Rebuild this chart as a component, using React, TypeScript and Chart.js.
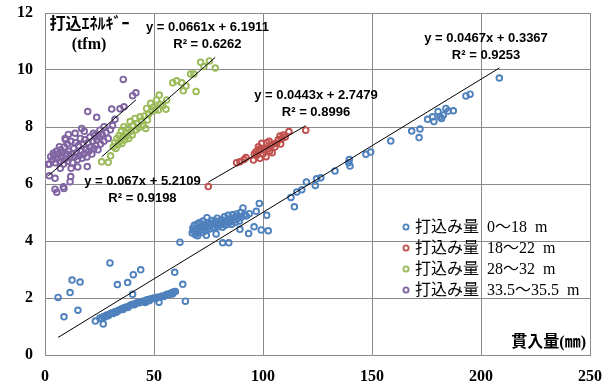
import React, { useEffect, useRef } from "react";
import { Chart, registerables } from "chart.js";

Chart.register(...registerables);

// ---------- data ----------
const seriesLabels = [
  "打込み量 0～18 m",
  "打込み量 18～22 m",
  "打込み量 28～32 m",
  "打込み量 33.5～35.5 m",
];
const seriesColors = ["#4F81BD", "#C0504D", "#9BBB59", "#8064A2"];

const blueData: [number, number][] = [
  [6.0, 2.02], [8.7, 1.34], [11.5, 2.19], [12.4, 2.63], [16.1, 2.56], [15.1, 1.57],
  [29.8, 3.23], [33.2, 2.47], [37.9, 2.54], [40.5, 2.82], [43.9, 2.99], [40.2, 2.13],
  [23.1, 1.19], [26.7, 1.09], [59.5, 2.9], [63.2, 2.48], [64.4, 1.89], [61.9, 3.96],
  [25.2, 1.30], [26.0, 1.27], [26.8, 1.35], [27.5, 1.33], [28.3, 1.40], [29.0, 1.38],
  [29.8, 1.44], [30.5, 1.47], [31.3, 1.46], [32.0, 1.52], [32.8, 1.50], [33.5, 1.56],
  [34.3, 1.58], [35.0, 1.61], [35.8, 1.60], [36.5, 1.66], [37.3, 1.68], [38.0, 1.67],
  [38.8, 1.73], [39.5, 1.76], [40.3, 1.78], [41.0, 1.76], [41.8, 1.82], [42.5, 1.84],
  [43.3, 1.83], [44.0, 1.87], [44.8, 1.89], [45.5, 1.87], [46.3, 1.92], [47.0, 1.94],
  [47.8, 1.90], [48.5, 1.97], [49.3, 1.98], [50.0, 2.00], [50.8, 1.97], [51.5, 2.03],
  [52.3, 1.85], [53.0, 2.04], [53.8, 2.07], [54.5, 2.05], [55.3, 2.10], [56.0, 2.13],
  [56.8, 2.11], [57.5, 2.16], [58.3, 2.19], [59.0, 2.21], [59.8, 2.23], [58.5, 2.14],
  [46.0, 1.84], [36.0, 1.64],
  [67.5, 4.28], [67.8, 4.45], [68.2, 4.35], [68.5, 4.55], [69.0, 4.22], [69.3, 4.40],
  [69.8, 4.60], [70.2, 4.30], [70.5, 4.48], [71.0, 4.65], [71.3, 4.38], [71.8, 4.52],
  [72.2, 4.30], [72.5, 4.70], [73.0, 4.45], [73.4, 4.58], [73.8, 4.36], [74.3, 4.82],
  [74.6, 4.50], [75.0, 4.65], [75.5, 4.42], [76.0, 4.58], [76.4, 4.72], [76.8, 4.48],
  [77.3, 4.62], [77.8, 4.45], [78.2, 4.70], [78.6, 4.55], [79.0, 4.80], [79.5, 4.50],
  [80.0, 4.66], [80.5, 4.58], [81.0, 4.75], [81.4, 4.48], [81.8, 4.62], [82.3, 4.85],
  [82.7, 4.55], [83.2, 4.70], [83.6, 4.60], [84.0, 4.90], [84.5, 4.65], [85.0, 4.78],
  [85.5, 4.58], [86.0, 4.92], [86.4, 4.72], [86.9, 4.82], [87.3, 4.65], [87.8, 4.95],
  [88.3, 4.78], [88.7, 4.88], [89.2, 4.70], [89.7, 5.00], [90.2, 4.85], [90.8, 5.16],
  [91.5, 4.92], [92.3, 4.88], [78.5, 4.25], [70.0, 4.18], [74.0, 4.20],
  [81.5, 3.94], [84.3, 3.94], [89.4, 4.41], [93.4, 4.26], [95.9, 4.50], [99.2, 4.39],
  [102.4, 4.36], [101.7, 4.90], [98.3, 5.32], [96.9, 5.04], [93.7, 4.96],
  [112.8, 5.53], [114.4, 5.2], [115.5, 5.72], [117.8, 5.80], [119.9, 6.07], [124.0, 5.95],
  [124.6, 6.18], [126.5, 6.22], [133.0, 6.46], [139.6, 6.86], [139.9, 6.63], [139.3, 6.75],
  [147.2, 7.04], [149.4, 7.12], [158.6, 7.51], [168.2, 7.86], [172.0, 7.93], [171.6, 7.63],
  [175.5, 8.27], [177.8, 8.36], [178.4, 8.19], [180.3, 8.54], [181.2, 8.36], [182.7, 8.42],
  [183.9, 8.65], [185.0, 8.56], [187.3, 8.57], [181.9, 8.3], [193.1, 9.09], [195.0, 9.15],
  [208.4, 9.72],
];

const redData: [number, number][] = [
  [74.9, 5.91], [87.9, 6.75], [89.4, 6.78], [91.3, 6.86], [92.2, 6.93], [95.6, 6.84],
  [96.8, 7.13], [97.9, 7.31], [98.6, 6.90], [99.4, 7.43], [100.0, 7.05], [100.5, 7.20],
  [101.4, 6.96], [101.7, 7.45], [102.3, 7.25], [103.0, 7.15], [103.5, 7.35], [104.2, 7.10],
  [104.8, 7.40], [105.5, 7.30], [106.3, 7.43], [107.0, 7.55], [107.8, 7.68], [108.1, 7.40],
  [108.7, 7.60], [109.3, 7.72], [110.2, 7.65], [111.9, 7.84], [119.6, 7.89], [97.0, 7.00],
  [99.0, 7.18], [102.8, 7.50], [96.0, 7.05], [98.2, 7.22],
];

const greenData: [number, number][] = [
  [26.0, 6.78], [29.0, 6.76], [30.1, 6.99], [31.3, 7.31], [32.0, 7.45], [32.5, 7.25],
  [33.0, 7.60], [33.5, 7.38], [34.0, 7.70], [34.5, 7.50], [35.0, 7.85], [35.3, 7.42],
  [35.8, 7.65], [36.2, 8.01], [36.6, 7.55], [37.0, 7.80], [37.5, 7.68], [38.0, 7.95],
  [38.4, 7.60], [39.0, 8.19], [39.5, 7.85], [40.0, 7.72], [40.5, 8.05], [41.3, 8.30],
  [41.8, 7.90], [42.3, 8.12], [43.0, 7.98], [43.6, 8.36], [44.2, 8.20], [45.0, 8.05],
  [45.6, 8.39], [46.2, 7.95], [46.6, 8.65], [47.0, 8.25], [47.5, 8.45], [48.5, 8.83],
  [49.0, 8.55], [49.8, 8.70], [50.5, 8.60], [51.2, 8.95], [52.0, 8.60], [52.4, 9.12],
  [53.0, 8.80], [54.0, 8.75], [55.5, 8.62], [55.8, 8.95], [58.6, 9.55], [60.4, 9.62],
  [62.7, 9.55], [63.4, 9.27], [64.7, 9.44], [66.8, 9.86], [68.3, 9.86], [69.3, 9.25],
  [71.4, 10.27], [72.9, 10.12], [75.4, 10.32], [78.1, 10.07],
];

const purpleData: [number, number][] = [
  [35.9, 9.67], [41.7, 9.20], [40.2, 9.10], [36.2, 8.71], [34.4, 8.64], [30.6, 8.63],
  [19.6, 8.54], [23.7, 8.34], [32.1, 8.27], [27.1, 8.01], [25.2, 7.89], [16.8, 7.95],
  [13.8, 7.78], [10.7, 7.74], [9.2, 7.60], [2.0, 6.70], [2.0, 6.29], [4.6, 6.20],
  [4.6, 5.82], [5.4, 5.71], [8.4, 5.90], [8.7, 5.84], [11.5, 6.08], [11.8, 6.26],
  [19.4, 6.61], [2.6, 6.96], [3.8, 7.08], [6.6, 7.31], [22.2, 7.78], [1.5, 6.69],
  [3.5, 6.85], [4.2, 7.00], [4.8, 6.75], [5.2, 7.15], [5.8, 6.90], [6.2, 7.05],
  [6.8, 6.80], [7.2, 7.20], [7.6, 6.95], [8.0, 7.10], [8.5, 6.70], [8.9, 7.30],
  [9.3, 6.88], [9.8, 7.05], [10.2, 7.40], [10.5, 6.80], [11.0, 7.15], [11.4, 6.95],
  [11.9, 7.50], [12.3, 7.05], [12.7, 6.75], [13.2, 7.25], [13.6, 6.95], [14.0, 7.45],
  [14.5, 7.10], [14.9, 6.85], [15.3, 7.35], [15.8, 7.00], [16.2, 7.60], [16.6, 7.15],
  [17.0, 6.90], [17.5, 7.40], [17.9, 7.05], [18.3, 7.55], [18.8, 7.20], [19.2, 6.95],
  [19.7, 7.45], [20.1, 7.15], [20.6, 7.65], [21.0, 7.30], [21.5, 7.05], [22.0, 7.50],
  [22.4, 7.25], [22.9, 7.70], [23.3, 7.35], [23.8, 7.55], [24.3, 7.20], [24.8, 7.65],
  [25.5, 7.40], [26.2, 7.75], [27.0, 7.50], [28.0, 7.80], [29.0, 7.60], [30.0, 7.90],
  [31.0, 8.05], [12.0, 6.55], [15.0, 6.60], [7.0, 6.55], [18.0, 7.85], [9.5, 7.55],
];

const seriesData = [blueData, redData, greenData, purpleData];

// trendline coefficients (from the chart's equations)
const trendSlopes = [0.0467, 0.0443, 0.067, 0.0661];
const trendIntercepts = [0.3367, 2.7479, 5.2109, 6.1911];
const eqTexts = [
  "y = 0.0467x + 0.3367",
  "y = 0.0443x + 2.7479",
  "y = 0.067x + 5.2109",
  "y = 0.0661x + 6.1911",
];
const r2Texts = ["R² = 0.9253", "R² = 0.8996", "R² = 0.9198", "R² = 0.6262"];
// equation label anchors in data units (x, y of first line centre)
const eqAnchorX = [202.3, 124.3, 44.7, 74.5];
const eqAnchorY = [11.11, 9.12, 6.08, 11.51];

const xMin = 0, xMax = 250, xStep = 50;
const yMin = 0, yMax = 12, yStep = 2;
const yTitleLines = ["打込ｴﾈﾙｷﾞｰ", "(tfm)"];
const xTitle = "貫入量(㎜)";

// ---------- styles ----------
const GRID = "#8a8a8a";
const SERIF = '"Liberation Serif", "Noto Sans CJK JP", serif';
const EQFONT = '"Liberation Sans", Arial, sans-serif';

const overlayPlugin = {
  id: "overlay",
  afterDatasetsDraw(chart: any) {
    const { ctx, chartArea, scales } = chart;
    const xs = scales.x, ys = scales.y;
    ctx.save();
    // trendline equations
    ctx.fillStyle = "#000";
    ctx.font = `bold 13px ${EQFONT}`;
    ctx.textAlign = "center";
    ctx.textBaseline = "middle";
    for (let i = 0; i < eqTexts.length; i++) {
      const px = xs.getPixelForValue(eqAnchorX[i]);
      const py = ys.getPixelForValue(eqAnchorY[i]);
      ctx.fillText(eqTexts[i], px, py);
      ctx.fillText(r2Texts[i], px, py + 17);
    }
    // axis titles
    ctx.font = `bold 16px ${SERIF}`;
    ctx.textAlign = "center";
    ctx.fillText(yTitleLines[0], chartArea.left + 44.5, chartArea.top + 12);
    ctx.fillText(yTitleLines[1], chartArea.left + 44, chartArea.top + 32);
    ctx.textAlign = "right";
    ctx.fillText(xTitle, chartArea.right - 4, chartArea.bottom - 12);
    // legend
    ctx.font = `16px ${SERIF}`;
    ctx.textAlign = "left";
    try { (ctx as any).wordSpacing = "4px"; } catch (e) {}
    const lx = chartArea.right - 184;
    const ly = chartArea.top + 214;
    for (let i = 0; i < seriesLabels.length; i++) {
      const y = ly + i * 21;
      ctx.beginPath();
      ctx.arc(lx, y, 2.6, 0, Math.PI * 2);
      ctx.strokeStyle = seriesColors[i];
      ctx.lineWidth = 1.8;
      ctx.stroke();
      ctx.fillStyle = "#000";
      ctx.fillText(seriesLabels[i], lx + 9, y + 1);
    }
    ctx.restore();
  },
};

export default function App() {
  const ref = useRef<HTMLCanvasElement | null>(null);
  useEffect(() => {
    if (!ref.current) return;
    const scatterSets = seriesData.map((d, i) => ({
      label: seriesLabels[i],
      data: d.map(([x, y]) => ({ x, y })),
      borderColor: seriesColors[i],
      backgroundColor: "rgba(0,0,0,0)",
      pointRadius: 2.8,
      pointBorderWidth: 1.9,
      showLine: false,
      order: 1,
    }));
    const trendSets = seriesData.map((d, i) => {
      const xsArr = d.map((p) => p[0]);
      const lo = Math.min(...xsArr);
      const hi = Math.max(...xsArr);
      return {
        label: "trend" + i,
        data: [
          { x: lo, y: trendSlopes[i] * lo + trendIntercepts[i] },
          { x: hi, y: trendSlopes[i] * hi + trendIntercepts[i] },
        ],
        borderColor: "#000",
        borderWidth: 1,
        pointRadius: 0,
        showLine: true,
        fill: false,
        order: 0,
      };
    });
    const chart = new Chart(ref.current, {
      type: "scatter",
      data: { datasets: [...scatterSets, ...trendSets] as any },
      options: {
        animation: false,
        responsive: false,
        layout: { padding: { left: 0, right: 24, top: 13, bottom: 0 } },
        plugins: { legend: { display: false }, tooltip: { enabled: false } },
        scales: {
          x: {
            type: "linear",
            min: xMin,
            max: xMax,
            ticks: {
              stepSize: xStep,
              color: "#000",
              padding: 12,
              font: { family: SERIF, size: 16, weight: "bold" },
            },
            grid: { color: GRID, drawTicks: false, lineWidth: 1 },
            border: { color: GRID, width: 1 },
            afterFit: (s: any) => { s.height = 35; s.paddingLeft = 0; s.paddingRight = 0; },
          },
          y: {
            type: "linear",
            min: yMin,
            max: yMax,
            ticks: {
              stepSize: yStep,
              color: "#000",
              padding: 12,
              font: { family: SERIF, size: 16, weight: "bold" },
            },
            grid: { color: GRID, drawTicks: false, lineWidth: 1 },
            border: { color: GRID, width: 1 },
            afterFit: (s: any) => { s.width = 45; s.paddingTop = 0; s.paddingBottom = 0; },
          },
        },
      } as any,
      plugins: [overlayPlugin],
    });
    return () => chart.destroy();
  }, []);
  return (
    <div style={{ position: "fixed", left: 0, top: 0, width: 614, height: 390, background: "#fff" }}>
      <canvas ref={ref} width={614} height={390} style={{ display: "block" }} />
    </div>
  );
}
